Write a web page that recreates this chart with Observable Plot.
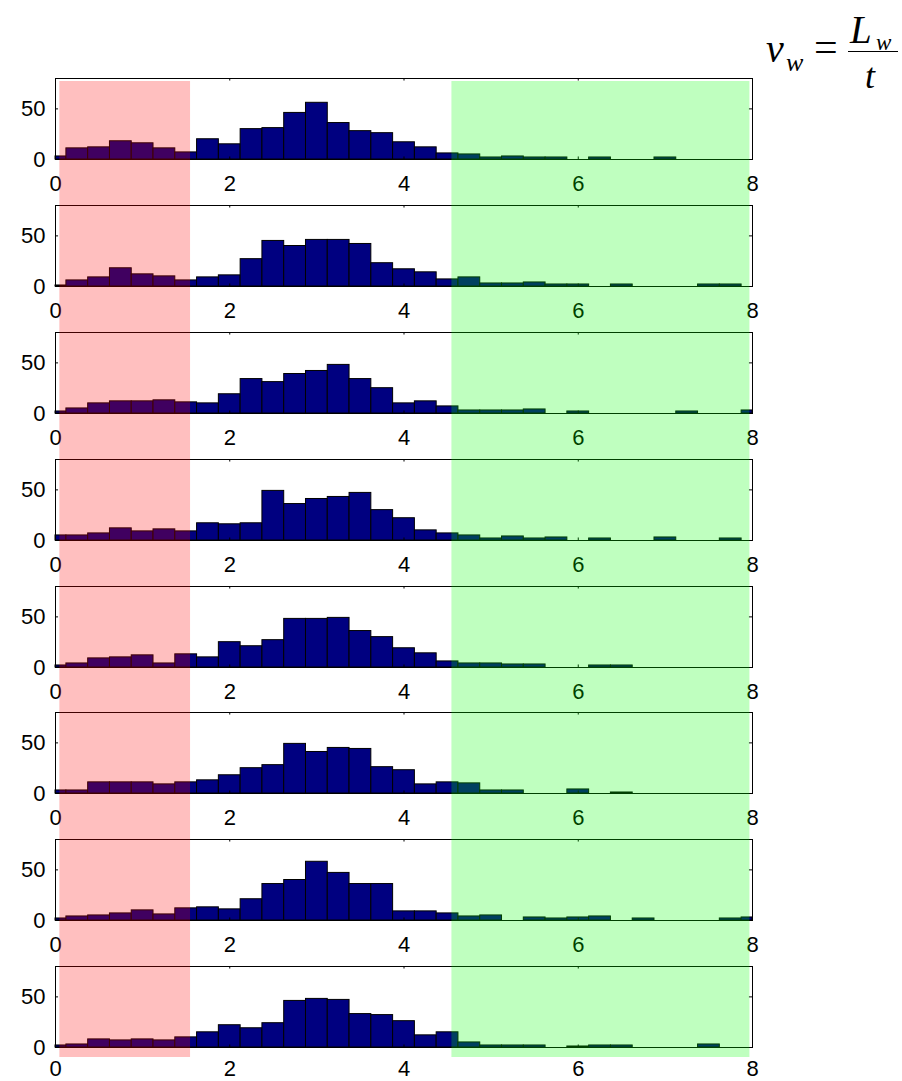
<!DOCTYPE html>
<html>
<head>
<meta charset="utf-8">
<script src="https://cdn.jsdelivr.net/npm/d3@7"></script>
<script src="https://cdn.jsdelivr.net/npm/@observablehq/plot@0.6"></script>
<style>
  html, body { margin: 0; padding: 0; background: #fff; }
  #root { position: relative; width: 902px; height: 1081px; overflow: hidden; }
  .panel { position: absolute; left: 0; }
  .panel svg { overflow: visible; }
  #overlay { position: absolute; left: 0; top: 81px; pointer-events: none; z-index: 5; }
  .eq { position: absolute; font-family: "Liberation Serif", "Times New Roman", serif; font-style: italic; line-height: 1; white-space: nowrap; color: #000; }
  .eq.up { font-style: normal; }
  #fracbar { position: absolute; left: 848px; top: 51px; width: 50px; height: 0; border-top: 1.6px solid #000; }
</style>
</head>
<body>
<div id="root">
  <div id="eq">
    <span class="eq" style="left:766px; top:29px; font-size:40px;">v</span>
    <span class="eq" style="left:786px; top:50px; font-size:26px;">w</span>
    <span class="eq up" style="left:814px; top:26px; font-size:42px;">=</span>
    <span class="eq" style="left:850px; top:10px; font-size:39px;">L</span>
    <span class="eq" style="left:876px; top:31px; font-size:23px;">w</span>
    <div id="fracbar"></div>
    <span class="eq" style="left:865px; top:58px; font-size:36px;">t</span>
  </div>
</div>
<script>
// ---- data ----
const binCenters = [0, 0.25, 0.5, 0.75, 1, 1.25, 1.5, 1.75, 2, 2.25, 2.5, 2.75, 3, 3.25, 3.5, 3.75,
                    4, 4.25, 4.5, 4.75, 5, 5.25, 5.5, 5.75, 6, 6.25, 6.5, 6.75, 7, 7.25, 7.5, 7.75, 8];
const binHalfWidth = 0.125;

const counts1 = [3, 11, 12, 18, 16, 11, 7, 20, 15, 30, 31, 46, 56, 36, 28, 26, 17, 12, 6, 5, 2, 3, 2, 2, 0, 2, 0, 0, 2, 0, 0, 0, 0];
const counts2 = [1, 6, 9, 18, 12, 10, 6, 9, 11, 27, 45, 40, 46, 46, 42, 23, 17, 14, 7, 9, 3, 3, 4, 2, 2, 0, 2, 0, 0, 0, 2, 2, 0];
const counts3 = [2, 5, 10, 12, 12, 13, 11, 10, 19, 34, 31, 39, 42, 48, 34, 25, 10, 12, 7, 3, 3, 3, 4, 0, 2, 0, 0, 0, 0, 2, 0, 0, 3];
const counts4 = [5, 5, 7, 12, 9, 11, 9, 17, 16, 17, 49, 36, 41, 43, 47, 30, 22, 10, 7, 5, 2, 4, 2, 3, 0, 2, 0, 0, 3, 0, 0, 2, 0];
const counts5 = [2, 4, 9, 10, 12, 4, 13, 10, 25, 21, 27, 48, 48, 49, 36, 30, 19, 14, 6, 4, 4, 3, 3, 0, 0, 2, 2, 0, 0, 0, 0, 0, 0];
const counts6 = [3, 3, 11, 11, 11, 9, 11, 13, 18, 25, 28, 49, 41, 45, 44, 26, 23, 9, 11, 10, 3, 3, 0, 0, 4, 0, 1, 0, 0, 0, 0, 0, 0];
const counts7 = [2, 4, 5, 7, 10, 6, 12, 13, 11, 21, 36, 40, 58, 47, 36, 36, 9, 9, 7, 4, 5, 0, 3, 2, 3, 4, 0, 2, 0, 0, 0, 2, 3];
const counts8 = [2, 3, 8, 7, 8, 7, 10, 15, 22, 19, 24, 46, 48, 47, 33, 32, 26, 12, 15, 5, 2, 2, 2, 0, 1, 2, 2, 0, 0, 0, 3, 0, 0];
const allCounts = [counts1, counts2, counts3, counts4, counts5, counts6, counts7, counts8];

const xDomain = [0, 8];
const yDomain = [0, 80];
const xTickValues = [0, 2, 4, 6, 8];
const yTickValues = [0, 50];

// shaded zones (x in data units)
const slowZone = [{from: 0.05, to: 1.55}];
const fastZone = [{from: 4.55, to: 7.97}];

// ---- layout ----
const W = 800, mL = 55, mR = 48;
const frameH = 81, mT = 6, mB = 33;
const firstTop = 78.3, pitch = 126.8;
const font = "'Liberation Sans', Arial, sans-serif";
const fs = 22;

const root = document.getElementById("root");

allCounts.forEach((counts, k) => {
  const data = binCenters.map((c, i) => ({c, n: counts[i]}));
  const isLast = k === allCounts.length - 1;
  const chart = Plot.plot({
    width: W, height: mT + frameH + mB,
    marginLeft: mL, marginRight: mR, marginTop: mT, marginBottom: mB,
    x: {domain: xDomain, axis: null},
    y: {domain: yDomain, axis: null},
    style: {fontFamily: font, fontSize: fs + "px", color: "black", background: "transparent", overflow: "visible"},
    marks: [
      Plot.rect(data, {
        x1: d => Math.max(xDomain[0], d.c - binHalfWidth),
        x2: d => Math.min(xDomain[1], d.c + binHalfWidth),
        y1: 0, y2: "n",
        fill: "#000080", stroke: "black", strokeWidth: 1
      }),
      Plot.frame({stroke: "black", strokeWidth: 1}),
      // inward ticks, all four sides
      Plot.ruleX(xTickValues, {x: d => d, y1: 0, y2: 2.5, stroke: "black"}),
      Plot.ruleX(xTickValues, {x: d => d, y1: 80, y2: 77.5, stroke: "black"}),
      Plot.ruleY(yTickValues, {y: d => d, x1: 0, x2: 0.035, stroke: "black"}),
      Plot.ruleY(yTickValues, {y: d => d, x1: 8, x2: 7.965, stroke: "black"}),
      Plot.axisX({ticks: xTickValues, tickSize: 0, tickPadding: isLast ? 13 : 16, fontSize: fs, label: null, fill: "black"}),
      Plot.axisY({ticks: yTickValues, tickSize: 0, tickPadding: 10, fontSize: fs, label: null, fill: "black"})
    ]
  });
  const div = document.createElement("div");
  div.className = "panel";
  div.style.top = (firstTop + k * pitch - mT) + "px";
  div.appendChild(chart);
  root.appendChild(div);
});

// translucent overlay zones spanning all panels
const overlayH = 1057 - 81;
const overlay = Plot.plot({
  width: W, height: overlayH,
  marginLeft: mL, marginRight: mR, marginTop: 0, marginBottom: 0,
  x: {domain: xDomain, axis: null},
  style: {background: "transparent", overflow: "visible"},
  marks: [
    Plot.rect(slowZone, {x1: "from", x2: "to", fill: "red", fillOpacity: 0.25}),
    Plot.rect(fastZone, {x1: "from", x2: "to", fill: "lime", fillOpacity: 0.25})
  ]
});
const od = document.createElement("div");
od.id = "overlay";
od.appendChild(overlay);
root.appendChild(od);
</script>
</body>
</html>
